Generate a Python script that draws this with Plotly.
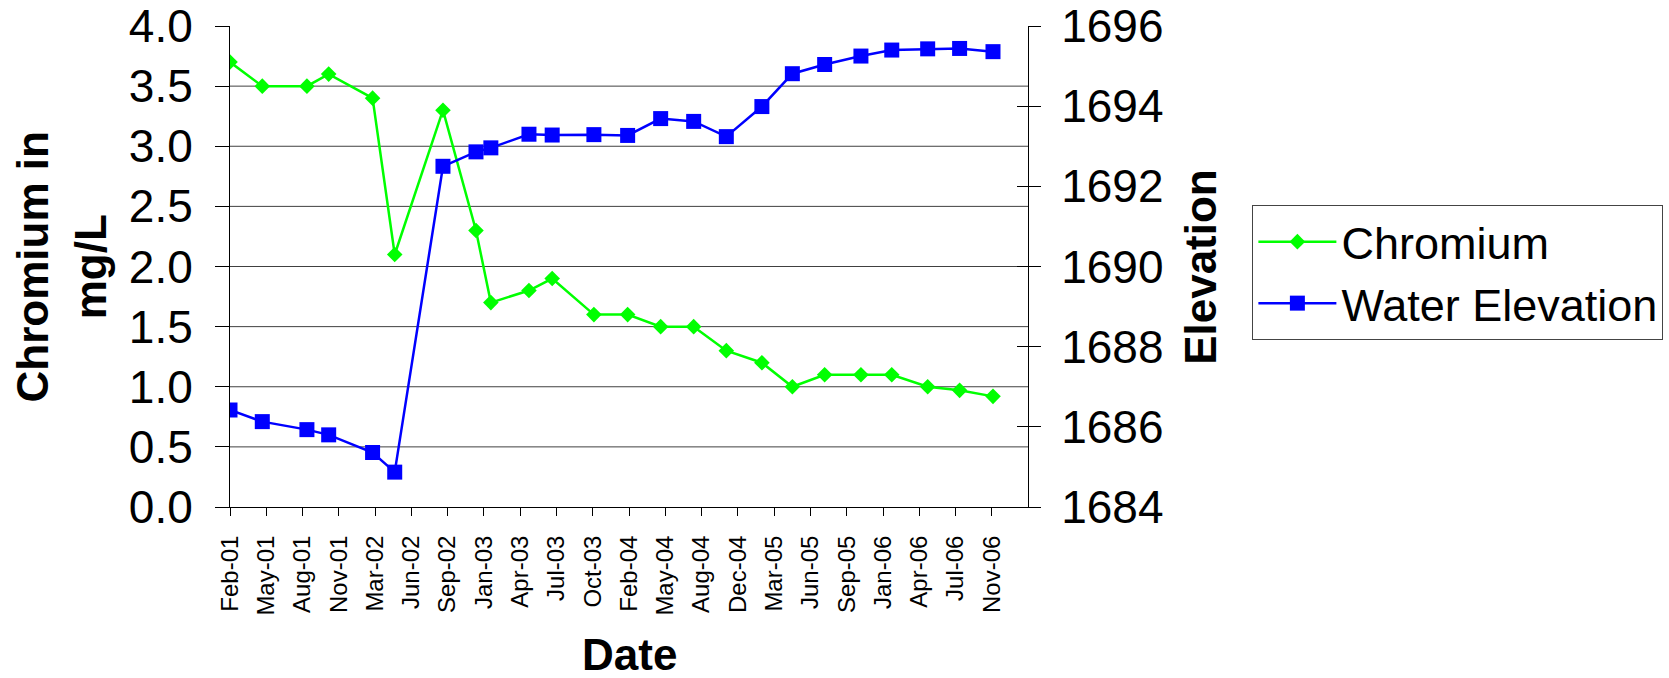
import pandas as pd
import plotly.graph_objects as go

# ---------------- data ----------------
dates = [
    "2001-02-01", "2001-05-01", "2001-09-01", "2001-10-31", "2002-03-01",
    "2002-05-01", "2002-09-11", "2002-12-11", "2003-01-21", "2003-05-06",
    "2003-07-09", "2003-11-01", "2004-02-02", "2004-05-03", "2004-08-02",
    "2004-10-31", "2005-02-06", "2005-05-01", "2005-07-29", "2005-11-06",
    "2006-01-30", "2006-05-09", "2006-08-05", "2006-11-05",
]
chromium = [
    3.7, 3.5, 3.5, 3.6, 3.4, 2.1, 3.3, 2.3, 1.7, 1.8, 1.9, 1.6,
    1.6, 1.5, 1.5, 1.3, 1.2, 1.0, 1.1, 1.1, 1.1, 1.0, 0.97, 0.92,
]
water_elevation = [
    1686.42, 1686.13, 1685.93, 1685.80, 1685.36, 1684.87, 1692.50, 1692.86,
    1692.96, 1693.30, 1693.28, 1693.29, 1693.27, 1693.69, 1693.62, 1693.24,
    1693.99, 1694.81, 1695.04, 1695.25, 1695.40, 1695.43, 1695.44, 1695.36,
]

# axis settings
axis_start = "2001-02-01"
tick_step_days = 100
axis_span_days = 2200
left_range = [0, 4]
left_dtick = 0.5
grid_values = [0.5, 1.0, 1.5, 2.0, 2.5, 3.0, 3.5]
right_range = [1684, 1696]
right_dtick = 2

FONT = "Liberation Sans, Arial, sans-serif"
GREEN = "#00FF00"
BLUE = "#0000FF"

FIG_W, FIG_H = 1669, 678
PLOT_L, PLOT_R, PLOT_T, PLOT_B = 230, 1027.7, 26, 507.3
PW, PH = PLOT_R - PLOT_L, PLOT_B - PLOT_T

start_ts = pd.Timestamp(axis_start)
end_ts = start_ts + pd.Timedelta(days=axis_span_days) - pd.Timedelta(hours=12)

fig = go.Figure()
fig.add_trace(go.Scatter(
    x=dates, y=chromium, name="Chromium", mode="lines+markers",
    line=dict(color=GREEN, width=2.5),
    marker=dict(symbol="diamond", size=12, color=GREEN),
    yaxis="y",
))
fig.add_trace(go.Scatter(
    x=dates, y=water_elevation, name="Water Elevation", mode="lines+markers",
    line=dict(color=BLUE, width=2.5),
    marker=dict(symbol="square", size=15, color=BLUE),
    yaxis="y2",
))
# empty helper trace so the inner-tick axis is drawn
fig.add_trace(go.Scatter(x=[], y=[], yaxis="y3", showlegend=False, hoverinfo="skip"))

for v in grid_values:
    fig.add_shape(type="line", xref="paper", x0=0, x1=1, yref="y", y0=v, y1=v,
                  line=dict(color="#404040", width=1), layer="below")

fig.update_layout(
    width=FIG_W, height=FIG_H,
    margin=dict(l=PLOT_L, r=FIG_W - PLOT_R, t=PLOT_T, b=FIG_H - PLOT_B, autoexpand=False),
    paper_bgcolor="white", plot_bgcolor="white",
    font=dict(family=FONT, color="black"),
    showlegend=True,
    legend=dict(
        x=(1252 - PLOT_L) / PW, y=(PLOT_B - 205) / PH, xanchor="left", yanchor="top",
        font=dict(family=FONT, size=45, color="black"),
        bordercolor="#444444", borderwidth=1, bgcolor="white",
        tracegroupgap=0, itemwidth=78,
    ),
    xaxis=dict(
        type="date",
        range=[start_ts, end_ts],
        tick0=axis_start, dtick=tick_step_days * 86400000,
        tickformat="%b-%y", tickangle=-90,
        ticks="outside", ticklen=8, tickcolor="black",
        showline=True, linecolor="black", linewidth=1,
        showgrid=False, zeroline=False,
        tickfont=dict(family=FONT, size=24, color="black"),
        ticklabelstandoff=10,
    ),
    yaxis=dict(
        range=left_range, dtick=left_dtick, tickformat=".1f",
        ticks="outside", ticklen=14, tickcolor="black",
        showline=True, linecolor="black", linewidth=1,
        showgrid=False, zeroline=False,
        tickfont=dict(family=FONT, size=46, color="black"),
        ticklabelstandoff=13, ticklabeloverflow="allow",
    ),
    yaxis2=dict(
        overlaying="y", side="right",
        range=right_range, dtick=right_dtick,
        ticks="outside", ticklen=12, tickcolor="black",
        showline=True, linecolor="black", linewidth=1,
        showgrid=False, zeroline=False,
        tickfont=dict(family=FONT, size=46, color="black"),
        ticklabelstandoff=11, ticklabeloverflow="allow",
    ),
    yaxis3=dict(
        overlaying="y", side="right",
        range=right_range, dtick=right_dtick,
        ticks="inside", ticklen=11, tickcolor="black",
        showline=False, showticklabels=False,
        showgrid=False, zeroline=False,
    ),
    annotations=[
        dict(text="<b>Chromium in<br>mg/L</b>", xref="paper", yref="paper",
             x=(61 - PLOT_L) / PW, y=0.5, xanchor="center", yanchor="middle",
             textangle=-90, showarrow=False, align="center",
             font=dict(family=FONT, size=44, color="black")),
        dict(text="<b>Elevation</b>", xref="paper", yref="paper",
             x=(1200 - PLOT_L) / PW, y=0.5, xanchor="center", yanchor="middle",
             textangle=-90, showarrow=False,
             font=dict(family=FONT, size=44, color="black")),
        dict(text="<b>Date</b>", xref="paper", yref="paper",
             x=0.5, y=(PLOT_B - 655) / PH, xanchor="center", yanchor="middle",
             showarrow=False,
             font=dict(family=FONT, size=44, color="black")),
    ],
)

# remove the browser's default 8px body margin so the figure fills the window
fig.write_html("out.html", config={"displayModeBar": False},
               post_script="document.body.style.margin='0';")
